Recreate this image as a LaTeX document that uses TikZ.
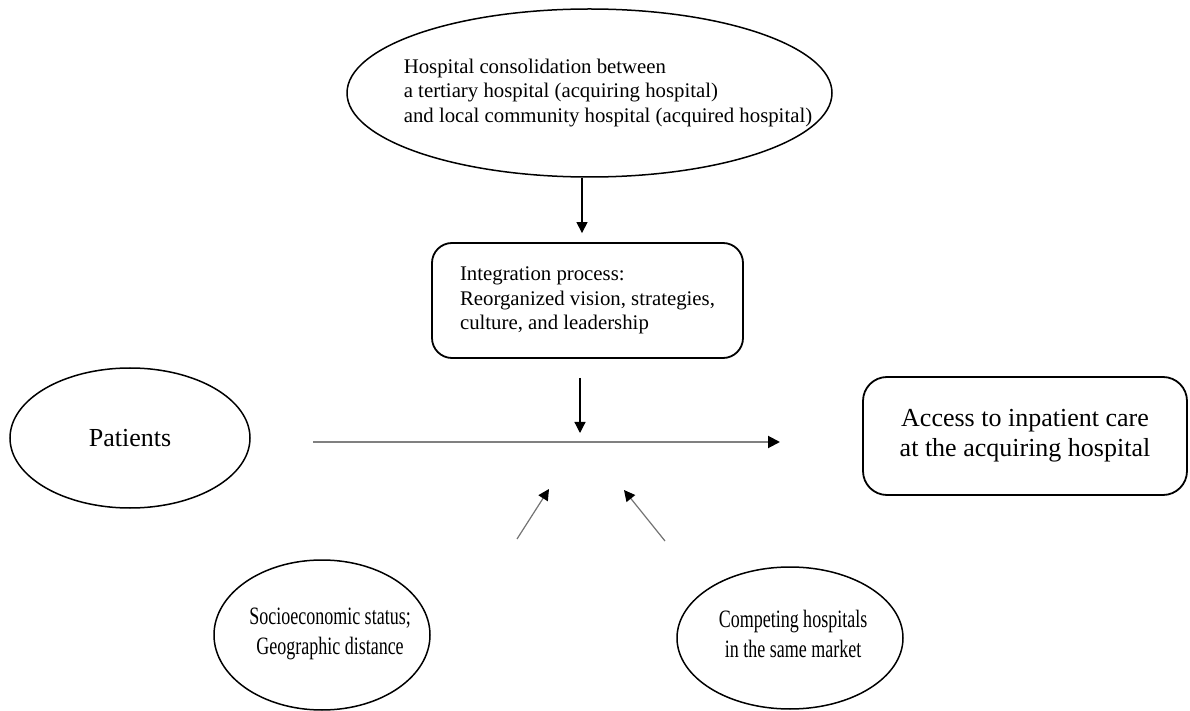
\documentclass[tikz,border=0pt]{standalone}
\usepackage{fontspec}
\setmainfont{Liberation Serif}
\newfontfamily\condensedserif[FakeStretch=0.72]{Liberation Serif}
\usetikzlibrary{arrows.meta,shapes.geometric}
\begin{document}
\begin{tikzpicture}[x=0.5pt,y=-0.5pt,
  oval/.style={draw,ellipse,line width=0.75pt,inner sep=0pt},
  rbox/.style={draw,rectangle,rounded corners=10pt,line width=0.9pt,inner sep=0pt},
  vlink/.style={line width=0.6pt,-{Triangle[length=5.5pt,width=5.5pt]}},
  glink/.style={draw=black!50,line width=1pt,-{Triangle[length=6pt,width=6pt,color=black]}},
  dlink/.style={draw=black!55,line width=0.6pt,-{Triangle[length=5.5pt,width=5.5pt,color=black]}},
  small/.style={font=\fontsize{10.4}{12.3}\selectfont,align=left},
  big/.style={font=\fontsize{13}{15}\selectfont,align=center},
  narrow/.style={font=\condensedserif\fontsize{12.5}{15}\selectfont,align=center},
]
\useasboundingbox (0,0) rectangle (1190,711);

% consolidation event
\node[oval,minimum width=242.5pt,minimum height=84pt] (merger) at (589.5,93) {};
\node[small] (mergertext) at (608,93)
  {Hospital consolidation between\\a tertiary hospital (acquiring hospital)\\and local community hospital (acquired hospital)};

% integration process
\node[rbox,minimum width=155.5pt,minimum height=57.5pt,small] (integ) at (587.5,300.5)
  {Integration process:\\Reorganized vision, strategies,\\culture, and leadership};

% main pathway
\node[oval,minimum width=120pt,minimum height=70pt,big] (pat) at (130,438) {Patients};
\node[rbox,rounded corners=12pt,minimum width=162pt,minimum height=59pt,big] (access) at (1025,436)
  {Access to inpatient care\\at the acquiring hospital};

% moderating factors
\node[oval,minimum width=108pt,minimum height=75pt] (ses) at (322,635) {};
\node[narrow] (sestext) at (330,634) {Socioeconomic status;\\Geographic distance};
\node[oval,minimum width=113pt,minimum height=71pt] (comp) at (790,638) {};
\node[narrow] (comptext) at (793,634) {Competing hospitals\\in the same market};

% connectors
\coordinate (hub) at (580,442);
\coordinate (lstart) at (313,442);
\coordinate (lend) at (780,442);
\coordinate (sesfoot) at (517,539);
\coordinate (sestip) at (549,489);
\coordinate (compfoot) at (665,541);
\coordinate (comptip) at (624,490);

\draw[vlink,shorten >=4.5pt] ([xshift=-3.75pt]merger.south) -- ([xshift=-3.75pt]merger.south |- integ.north);
\draw[vlink,shorten <=9.5pt,shorten >=4.5pt] (integ.south -| hub) -- (hub);
\draw[glink] (lstart) -- (lend);
\draw[dlink] (sesfoot) -- (sestip);
\draw[dlink] (compfoot) -- (comptip);
\end{tikzpicture}
\end{document}
